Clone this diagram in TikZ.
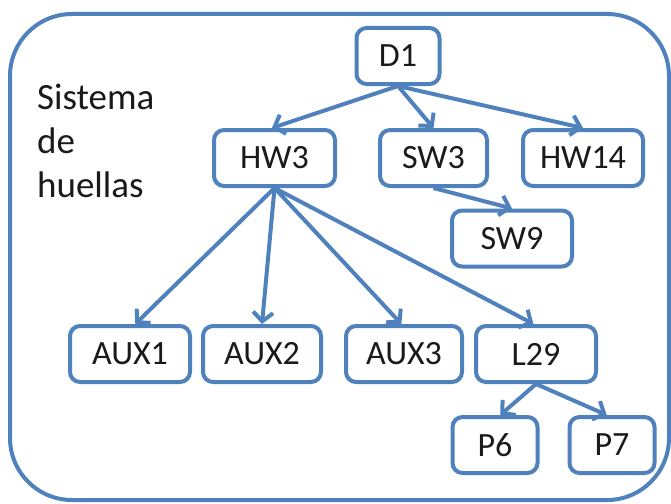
\documentclass[tikz,border=0pt]{standalone}
\usepackage{fontspec}
\setmainfont{Carlito}
\usetikzlibrary{arrows.meta}
\definecolor{boxblue}{HTML}{4F81BD}
\definecolor{ink}{HTML}{1A1A1A}
\tikzset{
  item/.style={draw=boxblue, line width=4pt, rounded corners=10pt, fill=white,
    minimum height=56pt, inner sep=0pt, text=ink,
    font=\fontsize{34}{40}\selectfont},
  link/.style={draw=boxblue, line width=4pt,
    -{Straight Barb[length=9pt,width=20pt]}},
}
\begin{document}
\begin{tikzpicture}[x=1pt, y=-1pt]
  \useasboundingbox (0,0) rectangle (671,503);
  % enclosing frame
  \draw[boxblue, line width=4pt, rounded corners=62pt] (10,14) rectangle (669,500);
  % caption
  \node[anchor=north west, align=left, text=ink, inner sep=0pt,
    font=\fontsize{37}{44}\selectfont] (title) at (37,84) {Sistema\\de\\huellas};
  % nodes
  \node[item, minimum width=83pt] (D1) at (398,56) {D1};
  \node[item, minimum width=121pt] (HW3) at (274.5,158) {HW3};
  \node[item, minimum width=107pt] (SW3) at (433.5,158) {SW3};
  \node[item, minimum width=120pt] (HW14) at (583,158) {HW14};
  \node[item, minimum width=120pt] (SW9) at (512,238.5) {SW9};
  \node[item, minimum width=120pt] (AUX1) at (130,354) {AUX1};
  \node[item, minimum width=118pt] (AUX2) at (262,354) {AUX2};
  \node[item, minimum width=116pt] (AUX3) at (404,354) {AUX3};
  \node[item, minimum width=120pt] (L29) at (536,354) {L29};
  \node[item, minimum width=85pt] (P6) at (495,445) {P6};
  \node[item, minimum width=85pt] (P7) at (612,445) {P7};
  % connectors
  \draw[link] (D1.south) -- (HW3.95);
  \draw[link] (D1.south) -- (SW3.north);
  \draw[link] (D1.south) -- (HW14.north);
  \draw[link] (SW3.south) -- (SW9.north);
  \draw[link] (HW3.south) -- (AUX1.80);
  \draw[link] (HW3.south) -- (AUX2.north);
  \draw[link] (HW3.south) -- (AUX3.95);
  \draw[link] (HW3.south) -- (L29.95);
  \draw[link] (L29.south) -- (P6.80);
  \draw[link] (L29.south) -- (P7.100);
\end{tikzpicture}
\end{document}
